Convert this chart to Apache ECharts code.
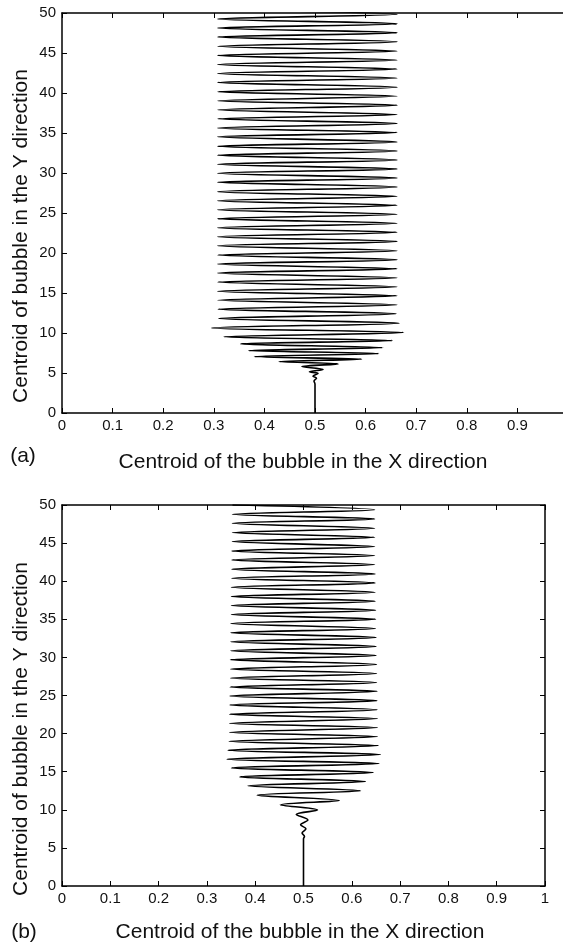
<!DOCTYPE html>
<html>
<head>
<meta charset="utf-8">
<script src="https://cdn.jsdelivr.net/npm/echarts@6/dist/echarts.min.js"></script>
<style>
  html, body {
    margin: 0;
    padding: 0;
    background: #ffffff;
  }
  #bubble-chart {
    width: 563px;
    height: 944px;
  }
</style>
</head>
<body>
<div id="bubble-chart"></div>
<script>
// tick labels
const xTicks = ['0', '0.1', '0.2', '0.3', '0.4', '0.5', '0.6', '0.7', '0.8', '0.9', '1']
const yTicks = [0, 5, 10, 15, 20, 25, 30, 35, 40, 45, 50]

// (a) centroid path, read turning point by turning point
const aX = [
  0.500, 0.500, 0.498, 0.503, 0.496, 0.506, 0.489, 0.516, 0.474, 0.546,
  0.429, 0.592, 0.380, 0.626, 0.369, 0.634, 0.353, 0.653, 0.320, 0.675,
  0.296, 0.666, 0.310, 0.660, 0.309, 0.662, 0.308, 0.662, 0.308, 0.662,
  0.308, 0.662, 0.308, 0.662, 0.308, 0.662, 0.308, 0.662, 0.308, 0.662,
  0.308, 0.662, 0.308, 0.662, 0.308, 0.662, 0.308, 0.662, 0.308, 0.662,
  0.308, 0.662, 0.308, 0.662, 0.308, 0.662, 0.308, 0.662, 0.308, 0.662,
  0.308, 0.662, 0.308, 0.662, 0.308, 0.662, 0.308, 0.662, 0.308, 0.662,
  0.308, 0.662, 0.308, 0.662, 0.308, 0.662, 0.308, 0.662, 0.308, 0.662,
  0.308, 0.662, 0.308, 0.662, 0.308, 0.662, 0.308, 0.662, 0.308, 0.662,
  0.308
]
const aY = [
  0, 3.6, 4.0, 4.35, 4.6, 4.95, 5.15, 5.45, 5.80, 6.14,
  6.43, 6.72, 7.05, 7.43, 7.80, 8.18, 8.64, 9.06, 9.52, 10.06,
  10.64, 11.23, 11.81, 12.40, 12.98, 13.52, 14.11, 14.65, 15.23, 15.78,
  16.36, 16.90, 17.49, 18.03, 18.61, 19.16, 19.74, 20.28, 20.91, 21.45,
  22.04, 22.58, 23.16, 23.71, 24.29, 24.83, 25.42, 25.96, 26.54, 27.09,
  27.67, 28.26, 28.84, 29.38, 29.97, 30.51, 31.09, 31.64, 32.22, 32.76,
  33.35, 33.89, 34.52, 35.06, 35.64, 36.19, 36.77, 37.31, 37.90, 38.48,
  39.02, 39.61, 40.15, 40.73, 41.32, 41.86, 42.45, 42.99, 43.57, 44.12,
  44.70, 45.24, 45.83, 46.41, 47.00, 47.54, 48.12, 48.66, 49.25, 49.83,
  50.40
]

// (b) centroid path
const bX = [
  0.500, 0.500, 0.502, 0.497, 0.505, 0.494, 0.509, 0.485, 0.529, 0.452,
  0.574, 0.404, 0.618, 0.385, 0.628, 0.368, 0.644, 0.351, 0.656, 0.342,
  0.659, 0.344, 0.655, 0.346, 0.653, 0.347, 0.653, 0.347, 0.653, 0.347,
  0.652, 0.348, 0.652, 0.348, 0.652, 0.348, 0.651, 0.349, 0.651, 0.349,
  0.651, 0.349, 0.650, 0.350, 0.650, 0.350, 0.650, 0.350, 0.649, 0.350,
  0.649, 0.351, 0.649, 0.351, 0.648, 0.351, 0.648, 0.351, 0.648, 0.352,
  0.648, 0.352, 0.647, 0.352, 0.647, 0.352, 0.647, 0.353, 0.647, 0.353,
  0.647, 0.353, 0.647, 0.353, 0.647, 0.353
]
const bY = [
  0, 6.2, 6.5, 6.94, 7.51, 8.03, 8.65, 9.39, 9.96, 10.66,
  11.22, 11.92, 12.49, 13.14, 13.71, 14.32, 14.89, 15.50, 16.07, 16.64,
  17.25, 17.82, 18.43, 18.99, 19.61, 20.17, 20.79, 21.35, 21.97, 22.53,
  23.14, 23.76, 24.32, 24.93, 25.55, 26.11, 26.72, 27.29, 27.90, 28.47,
  29.08, 29.69, 30.26, 30.87, 31.44, 32.05, 32.62, 33.23, 33.80, 34.45,
  35.02, 35.63, 36.20, 36.81, 37.38, 37.99, 38.56, 39.21, 39.78, 40.39,
  40.96, 41.57, 42.18, 42.79, 43.36, 43.97, 44.54, 45.20, 45.76, 46.38,
  46.94, 47.60, 48.17, 48.78, 49.39, 50.00
]

const xTitle = 'Centroid of the bubble in the X direction'
const yTitle = 'Centroid of bubble in the Y direction'

const font = "'Liberation Sans', Arial, sans-serif"
const titleFont = '21px ' + font

const zip = (xs, ys) => xs.map((x, i) => [x, ys[i]])

const frameLine = {show: true, onZero: false, lineStyle: {color: '#000', width: 1.5}}
const frameTick = {show: true, inside: true, length: 5, lineStyle: {color: '#000', width: 1}}

const bottomAxis = (gridIndex, showLast) => ({
  type: 'value',
  gridIndex: gridIndex,
  position: 'bottom',
  min: 0,
  max: 1,
  interval: 0.1,
  axisLine: frameLine,
  axisTick: frameTick,
  splitLine: {show: false},
  axisLabel: {
    margin: 5,
    fontFamily: font,
    fontSize: 15,
    color: '#111',
    showMaxLabel: showLast,
    formatter: (v) => xTicks[Math.round(v * 10)]
  }
})

const topAxis = (gridIndex) => ({
  type: 'value',
  gridIndex: gridIndex,
  position: 'top',
  min: 0,
  max: 1,
  interval: 0.1,
  axisLine: frameLine,
  axisTick: frameTick,
  axisLabel: {show: false},
  splitLine: {show: false}
})

const leftAxis = (gridIndex) => ({
  type: 'value',
  gridIndex: gridIndex,
  position: 'left',
  min: yTicks[0],
  max: yTicks[yTicks.length - 1],
  interval: 5,
  axisLine: frameLine,
  axisTick: frameTick,
  splitLine: {show: false},
  axisLabel: {margin: 6, fontFamily: font, fontSize: 15, color: '#111'}
})

const rightAxis = (gridIndex) => ({
  type: 'value',
  gridIndex: gridIndex,
  position: 'right',
  min: 0,
  max: 50,
  interval: 5,
  axisLine: frameLine,
  axisTick: frameTick,
  axisLabel: {show: false},
  splitLine: {show: false}
})

const pathSeries = (index, data) => ({
  type: 'line',
  xAxisIndex: index,
  yAxisIndex: index,
  data: data,
  symbol: 'none',
  smooth: 0.35,
  clip: true,
  lineStyle: {color: '#000', width: 1.6}
})

const chart = echarts.init(document.getElementById('bubble-chart'))

const option = {
  animation: false,
  backgroundColor: '#ffffff',
  grid: [
    // panel (a) is cut off on the right in the original figure
    {left: 62, top: 13, width: 506, height: 400, outerBoundsMode: 'none', containLabel: false},
    {left: 62, top: 505, width: 483, height: 381, outerBoundsMode: 'none', containLabel: false}
  ],
  xAxis: [bottomAxis(0, false), bottomAxis(1, true), topAxis(0), topAxis(1)],
  yAxis: [leftAxis(0), leftAxis(1), rightAxis(0), rightAxis(1)],
  series: [
    pathSeries(0, zip(aX, aY)),
    pathSeries(1, zip(bX, bY))
  ],
  graphic: [
    {type: 'text', x: 21, y: 236, rotation: Math.PI / 2, style: {text: yTitle, font: titleFont, fill: '#111', align: 'center', verticalAlign: 'middle'}},
    {type: 'text', x: 21, y: 729, rotation: Math.PI / 2, style: {text: yTitle, font: titleFont, fill: '#111', align: 'center', verticalAlign: 'middle'}},
    {type: 'text', x: 23, y: 456, style: {text: '(a)', font: titleFont, fill: '#111', align: 'center', verticalAlign: 'middle'}},
    {type: 'text', x: 303, y: 462, style: {text: xTitle, font: titleFont, fill: '#111', align: 'center', verticalAlign: 'middle'}},
    {type: 'text', x: 24, y: 932, style: {text: '(b)', font: titleFont, fill: '#111', align: 'center', verticalAlign: 'middle'}},
    {type: 'text', x: 300, y: 932, style: {text: xTitle, font: titleFont, fill: '#111', align: 'center', verticalAlign: 'middle'}}
  ]
}

chart.setOption(option)
</script>
</body>
</html>
